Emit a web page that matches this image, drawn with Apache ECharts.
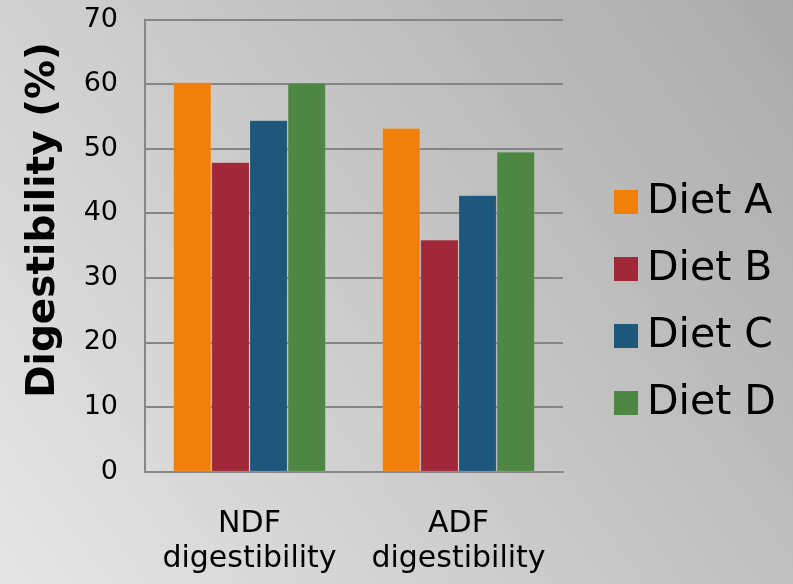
<!DOCTYPE html>
<html>
<head>
<meta charset="utf-8">
<script src="https://cdn.jsdelivr.net/npm/echarts@6/dist/echarts.min.js"></script>
<style>
html,body{margin:0;padding:0;}
#c{width:793px;height:584px;}
</style>
</head>
<body>
<div id="c"></div>
<script>
var categories = ['NDF\ndigestibility', 'ADF\ndigestibility'];
var seriesNames = ['Diet A', 'Diet B', 'Diet C', 'Diet D'];
var dietA = [60.3, 53.2];
var dietB = [47.9, 35.9];
var dietC = [54.4, 42.8];
var dietD = [60.2, 49.5];
var yTicks = { min: 0, max: 70, interval: 10 };
var colors = ['#F08009', '#A02838', '#1D587C', '#4E8643'];
var values = [dietA, dietB, dietC, dietD];

var font = 'DejaVu Sans';
var chart = echarts.init(document.getElementById('c'), null, {renderer: 'canvas'});
chart.setOption({
  animation: false,
  backgroundColor: {
    type: 'linear', x: 0, y: 1, x2: 1, y2: 0,
    colorStops: [
      {offset: 0, color: '#e6e6e6'},
      {offset: 1, color: '#aaaaaa'}
    ]
  },
  grid: { left: 145, right: 230, top: 19.5, bottom: 112.5 },
  legend: {
    orient: 'vertical',
    left: 609,
    top: 175,
    icon: 'rect',
    itemWidth: 24,
    itemHeight: 24,
    itemGap: 23,
    data: seriesNames,
    itemStyle: { borderWidth: 0 },
    textStyle: { fontFamily: font, fontSize: 41, color: '#000', lineHeight: 44, padding: [0, 0, 0, 4] }
  },
  xAxis: {
    type: 'category',
    data: categories,
    axisLine: { lineStyle: { color: '#878787', width: 2 } },
    axisTick: { show: false },
    axisLabel: { interval: 0, fontFamily: font, fontSize: 30, color: '#000', lineHeight: 35, margin: 35 }
  },
  yAxis: {
    type: 'value',
    min: yTicks.min, max: yTicks.max, interval: yTicks.interval,
    axisLine: { show: true, lineStyle: { color: '#878787', width: 2 } },
    axisTick: { show: false },
    splitLine: { lineStyle: { color: '#858585', width: 2 } },
    axisLabel: { fontFamily: font, fontSize: 27, color: '#000', margin: 27 }
  },
  graphic: [{
    type: 'text',
    x: 44, y: 220,
    rotation: Math.PI / 2,
    style: {
      text: 'Digestibility (%)',
      font: 'bold 39px "DejaVu Sans"',
      fill: '#000',
      align: 'center',
      verticalAlign: 'middle'
    }
  }],
  series: seriesNames.map(function (n, i) {
    return {
      name: n,
      type: 'bar',
      data: values[i],
      barGap: '0%',
      barCategoryGap: '27%',
      itemStyle: { color: colors[i], borderColor: 'rgba(255,255,255,0.1)', borderWidth: 1 }
    };
  })
});
</script>
</body>
</html>
